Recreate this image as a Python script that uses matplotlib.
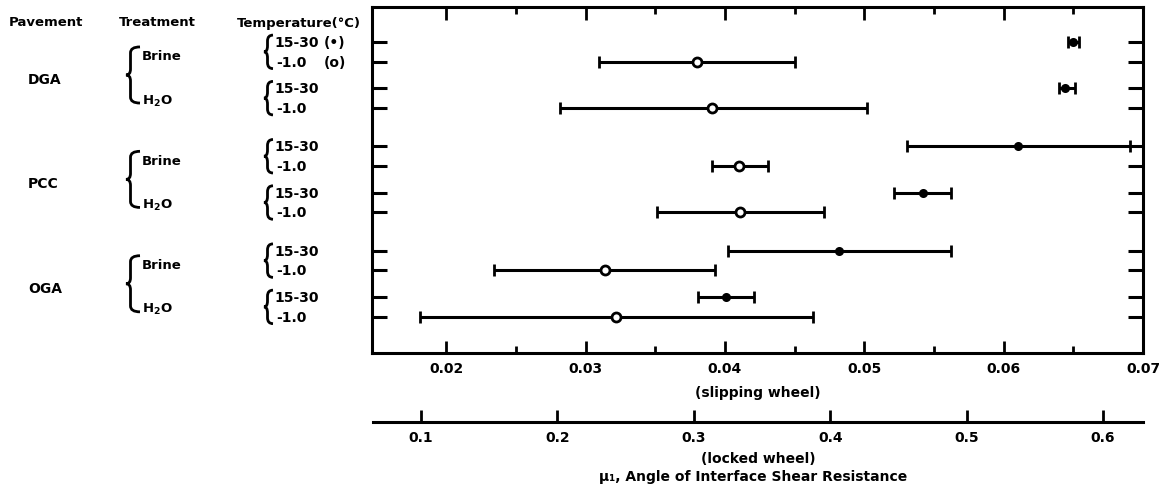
import numpy as np
import matplotlib.pyplot as plt
from matplotlib.path import Path
from matplotlib.patches import PathPatch
from matplotlib.ticker import MultipleLocator, FixedLocator
from matplotlib.transforms import blended_transform_factory

plt.rcParams['font.family'] = ['DejaVu Sans']
plt.rcParams['font.weight'] = 'bold'

# data, rows ordered top to bottom
pavements = ['DGA', 'PCC', 'OGA']
treatments = ['Brine', r'H$_\mathbf{2}$O']
temps = ['15-30', '-1.0']
temp_marks = ['(•)', '(o)']

# slipping wheel mu_1: mean, low, high
mu_mean = [0.0650, 0.0380, 0.0644, 0.0391, 0.0610, 0.0410, 0.0542, 0.0411, 0.0482, 0.0314, 0.0401, 0.0322]
mu_low = [0.0646, 0.0310, 0.0640, 0.0282, 0.0531, 0.0391, 0.0521, 0.0351, 0.0402, 0.0234, 0.0381, 0.0181]
mu_high = [0.0654, 0.0450, 0.0651, 0.0502, 0.0691, 0.0431, 0.0562, 0.0471, 0.0562, 0.0393, 0.0421, 0.0463]

# row positions from the group structure
tr_gap = 0.35
pav_gap = 0.95
pos = []
y = 0.0
for i in range(len(pavements)):
    if i > 0:
        y += pav_gap
    for j in range(len(treatments)):
        if j > 0:
            y += tr_gap
        for k in range(len(temps)):
            pos.append(y + k)
        y += len(temps)

fig = plt.figure(figsize=(11.68, 5.02), dpi=100)

# overlay in pixel coords for the left-hand labels
ov = fig.add_axes([0, 0, 1, 1])
ov.set_xlim(0, 1168)
ov.set_ylim(502, 0)
ov.axis('off')

ax = fig.add_axes([372 / 1168, 1 - 354 / 502, 771 / 1168, 346 / 502])
ax.set_xlim(0.01468, 0.07)
ax.set_ylim(15.79, -1.777)

lw = 2.2
for s in ax.spines.values():
    s.set_linewidth(lw)

for idx in range(len(pos)):
    k = idx % 2
    face = 'black' if k == 0 else 'white'
    ms = 4.5 if k == 0 else 6.5
    ax.errorbar(mu_mean[idx], pos[idx],
                xerr=[[mu_mean[idx] - mu_low[idx]], [mu_high[idx] - mu_mean[idx]]],
                fmt='o', color='black', mfc=face, mec='black', ms=ms, mew=2,
                elinewidth=lw, capsize=4, capthick=2, zorder=3)

ax.xaxis.set_major_locator(MultipleLocator(0.01))
ax.xaxis.set_minor_locator(FixedLocator(np.arange(0.025, 0.07, 0.01)))
ax.set_yticks(pos)
ax.set_yticklabels([])
ax.tick_params(axis='x', which='major', direction='in', top=True, bottom=True,
               length=9, width=2, labelsize=10, pad=6)
ax.tick_params(axis='x', which='minor', direction='in', top=True, bottom=True,
               length=5, width=2)
ax.tick_params(axis='y', direction='in', left=True, right=True, length=11, width=2.2)
ax.set_xlabel('(slipping wheel)', fontsize=10, fontweight='bold', labelpad=7)

# second scale: locked wheel
ax2 = fig.add_axes([373 / 1168, 1 - 423 / 502, 770 / 1168, 0.0001])
ax2.set_xlim(0.0648, 0.6293)
ax2.set_yticks([])
for name in ['top', 'left', 'right']:
    ax2.spines[name].set_visible(False)
ax2.spines['bottom'].set_linewidth(lw)
ax2.patch.set_visible(False)
ax2.xaxis.set_major_locator(MultipleLocator(0.1))
ax2.tick_params(axis='x', direction='in', length=9, width=2, labelsize=10, pad=6)
ax2.set_xlabel('(locked wheel)', fontsize=10, fontweight='bold', labelpad=5)

ov.text(753, 477, 'μ₁, Angle of Interface Shear Resistance', fontsize=10,
        fontweight='bold', ha='center', va='center')

# headers
ov.text(46, 23, 'Pavement', fontsize=9.5, ha='center', va='center')
ov.text(157, 23, 'Treatment', fontsize=9.5, ha='center', va='center')
ov.text(299, 23, 'Temperature(°C)', fontsize=9.5, ha='center', va='center')

tr = blended_transform_factory(ov.transData, ax.transData)


def brace(x_tip, x_stem, x_hook, y0, y1, r):
    ym = (y0 + y1) / 2
    verts = [(x_hook, y0), (x_stem, y0), (x_stem, y0 + r),
             (x_stem, ym - r), (x_stem, ym), (x_tip, ym),
             (x_stem, ym), (x_stem, ym + r),
             (x_stem, y1 - r), (x_stem, y1), (x_hook, y1)]
    codes = [Path.MOVETO, Path.CURVE3, Path.CURVE3,
             Path.LINETO, Path.CURVE3, Path.CURVE3,
             Path.CURVE3, Path.CURVE3,
             Path.LINETO, Path.CURVE3, Path.CURVE3]
    patch = PathPatch(Path(verts, codes), fill=False, lw=2, ec='black',
                      transform=tr, clip_on=False)
    ov.add_patch(patch)


for i, pav in enumerate(pavements):
    rows = pos[i * 4:(i + 1) * 4]
    ov.text(28, (rows[0] + rows[3]) / 2 + 0.2, pav, fontsize=10, ha='left',
            va='center', transform=tr)
    c1 = (rows[0] + rows[1]) / 2
    c2 = (rows[2] + rows[3]) / 2
    brace(126, 130.5, 140, c1 - 0.25, c2 + 0.25, 0.3)
    ov.text(142, c1 + 0.2, treatments[0], fontsize=9.5, ha='left', va='center',
            transform=tr)
    ov.text(142, c2 + 0.1, treatments[1], fontsize=9.5, ha='left', va='center',
            transform=tr)
    for j in range(2):
        r0, r1 = rows[2 * j], rows[2 * j + 1]
        brace(264, 267.5, 273, r0 - 0.35, r1 + 0.35, 0.3)
        ov.text(274, r0, temps[0], fontsize=10, ha='left', va='center', transform=tr)
        ov.text(276, r1, temps[1], fontsize=10, ha='left', va='center', transform=tr)
        if i == 0 and j == 0:
            ov.text(324, r0, temp_marks[0], fontsize=10, ha='left', va='center', transform=tr)
            ov.text(324, r1, temp_marks[1], fontsize=10, ha='left', va='center', transform=tr)

fig.savefig('out.png', dpi=100)
